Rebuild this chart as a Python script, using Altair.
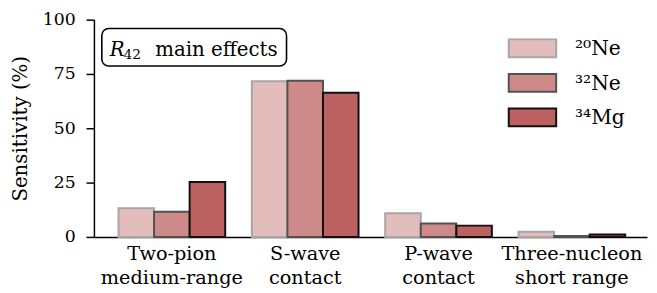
import altair as alt
import pandas as pd

categories = ["Two-pion\nmedium-range", "S-wave\ncontact", "P-wave\ncontact", "Three-nucleon\nshort range"]
nuclei = ["²⁰Ne", "³²Ne", "³⁴Mg"]
ne20 = [13.2, 71.6, 10.9, 2.4]
ne32 = [11.6, 71.9, 6.2, 0.4]
mg34 = [25.3, 66.3, 5.2, 1.1]
fills = ["#e3bcbc", "#cd8a88", "#bb615f"]
strokes = ["#a6a6a6", "#525252", "#111111"]

rows = []
for nuc, vals in zip(nuclei, [ne20, ne32, mg34]):
    for c, v in zip(categories, vals):
        rows.append({"Category": c, "Nucleus": nuc, "Sensitivity": v})
df = pd.DataFrame(rows)
legend_df = pd.DataFrame({"Nucleus": nuclei})

FONT = "DejaVu Serif"
W, H = 560, 220

fill_enc = alt.Fill("Nucleus:N", sort=nuclei,
                    scale=alt.Scale(domain=nuclei, range=fills), legend=None)
stroke_enc = alt.Stroke("Nucleus:N", sort=nuclei,
                        scale=alt.Scale(domain=nuclei, range=strokes), legend=None)

bars = alt.Chart(df).mark_bar(strokeWidth=2).encode(
    x=alt.X("Category:N", sort=categories, title=None,
            scale=alt.Scale(paddingInner=0.2, paddingOuter=0.174, align=0.53),
            axis=alt.Axis(labelAngle=0, ticks=False, labelPadding=8,
                          labelExpr="split(datum.label, '\\n')",
                          labelLineHeight=24, labelFontSize=19.5)),
    xOffset=alt.XOffset("Nucleus:N", sort=nuclei,
                        scale=alt.Scale(paddingInner=0, paddingOuter=0)),
    y=alt.Y("Sensitivity:Q", title="Sensitivity (%)",
            scale=alt.Scale(domain=[0, 100], nice=False),
            axis=alt.Axis(values=[0, 25, 50, 75, 100], tickSize=8, labelPadding=11,
                          labelFontSize=17.5, grid=False, titleFontSize=20,
                          titlePadding=12)),
    fill=fill_enc,
    stroke=stroke_enc,
)

# manual legend (rows spaced 35 px, starting 29 px below the plot top)
leg_base = alt.Chart(legend_df).transform_window(
    idx="row_number()"
).transform_calculate(
    yc="29 + 35 * (datum.idx - 1)"
).transform_calculate(
    y0="datum.yc - 9", y1="datum.yc + 9"
)
leg_rect = leg_base.mark_rect(strokeWidth=2).encode(
    x=alt.value(420), x2=alt.value(468),
    y=alt.Y("y0:Q", scale=None, axis=None), y2="y1:Q",
    fill=fill_enc, stroke=stroke_enc,
)
leg_text = leg_base.mark_text(
    font=FONT, fontSize=20.5, align="left", baseline="middle", color="black", dy=1
).encode(
    x=alt.value(487), y=alt.Y("yc:Q", scale=None, axis=None), text="Nucleus:N",
)

box_df = pd.DataFrame({"a": [0]})
box = alt.Chart(box_df).mark_rect(
    fill="white", stroke="black", strokeWidth=1.6, cornerRadius=7
).encode(x=alt.value(8), x2=alt.value(195), y=alt.value(9), y2=alt.value(47))

r_txt = alt.Chart(pd.DataFrame({"t": ["R"]})).mark_text(
    font=FONT, fontSize=20, fontStyle="italic", align="left", baseline="alphabetic", color="black"
).encode(x=alt.value(16), y=alt.value(37), text="t:N")
sub_txt = alt.Chart(pd.DataFrame({"t": ["42"]})).mark_text(
    font=FONT, fontSize=14, align="left", baseline="alphabetic", color="black"
).encode(x=alt.value(30), y=alt.value(40), text="t:N")
main_txt = alt.Chart(pd.DataFrame({"t": ["main effects"]})).mark_text(
    font=FONT, fontSize=20, align="left", baseline="alphabetic", color="black"
).encode(x=alt.value(62), y=alt.value(37), text="t:N")

chart = alt.layer(bars, leg_rect, leg_text, box, r_txt, sub_txt, main_txt).resolve_scale(
    y="independent"
).properties(
    width=W, height=H,
    autosize=alt.AutoSizeParams(type="none"),
    padding={"left": 87, "top": 10, "right": 2, "bottom": 55},
).configure(font=FONT).configure_view(stroke=None).configure_axis(
    domainColor="black", domainWidth=1.5, tickColor="black", tickWidth=1.5,
    labelColor="black", titleColor="black", titleFontWeight="normal",
    labelFont=FONT, titleFont=FONT,
)

chart.save("out.html", embed_options={"renderer": "svg", "actions": False})
